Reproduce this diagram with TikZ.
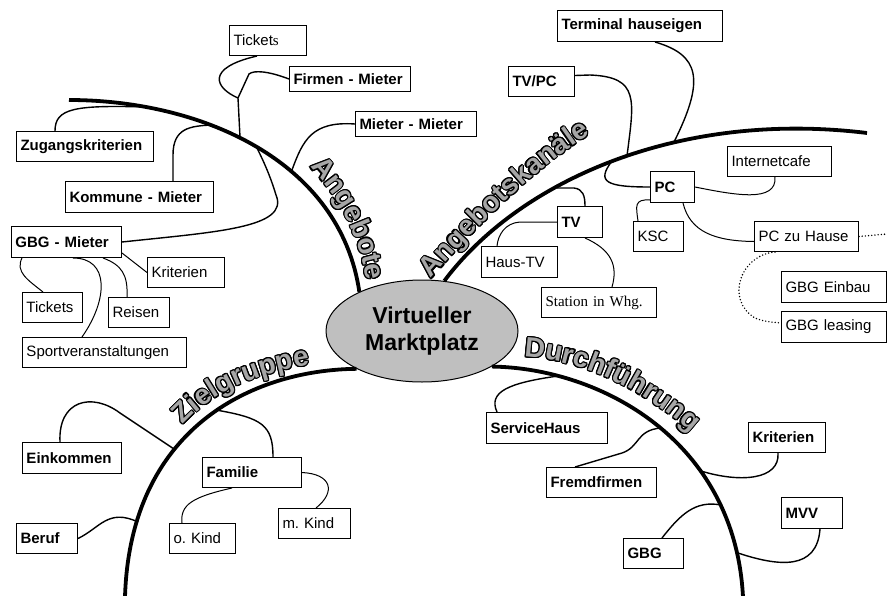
\documentclass[tikz,border=0pt]{standalone}
\usepackage{fontspec}
\setmainfont{Liberation Sans}
\newfontfamily\serifschrift{Liberation Serif}
\usepackage{contour}
\contourlength{1.1pt}
\usetikzlibrary{calc, shapes.geometric, decorations.text}
\frenchspacing

\newcommand\umriss[1]{\contour{black}{#1}}
\newcommand\lblfont{\fontsize{28}{30}\selectfont\bfseries}

\begin{document}
\begin{tikzpicture}[x=1pt, y=-1pt, line width=1.2pt,
    box/.style={draw, line width=1pt, fill=white, anchor=north west, align=left,
      inner xsep=4pt, inner ysep=0pt, text width=#1pt, font=\fontsize{15}{17}\selectfont},
    hbox/.style={box=#1, font=\fontsize{15}{17}\selectfont\bfseries},
    ast/.style={line width=3.8pt},
    zweig/.style={line width=1.4pt},
    duenn/.style={line width=1pt},
    punkt/.style={line width=1.6pt, dash pattern=on 0pt off 3.2pt, line cap=round},
    etikett/.style={decorate, decoration={text effects along path, text={#1},
      text effects/.cd, text along path, character command=\umriss,
      characters={text=black!35, font=\lblfont}}},
  ]
  \useasboundingbox (0,0) rectangle (887,595);
  \fill[white] (0,0) rectangle (887,595);

  % Mitte
  \node[ellipse, draw, line width=1pt, fill=black!25, minimum width=192pt, minimum height=102pt,
    align=center, font=\fontsize{23}{27}\selectfont\bfseries] (vm) at (422,331) {Virtueller\\Marktplatz};

  % Kaesten fett
  \foreach \n/\x/\y/\w/\h/\t in {firm/289/66/113/25/Firmen - Mieter, mm/355/111/113/25/Mieter - Mieter,
      term/557/10/157/31/Terminal hauseigen, tvpc/508/66/58/30/{TV/PC},
      zug/16/131/129/30/Zugangskriterien, kom/65/181/140/31/Kommune - Mieter,
      gbg/11/226/102/31/GBG - Mieter, pc/650/171/36/31/PC, tv/557/206/37/31/TV,
      eink/22/442/91/31/Einkommen, beruf/16/523/53/30/Beruf, fam/202/457/91/30/Familie,
      serv/486/412/113/31/ServiceHaus, frem/546/467/102/30/Fremdfirmen,
      krit/748/422/69/30/Kriterien, mvv/781/497/53/31/MVV, gbgd/623/538/52/30/GBG} {
    \node[hbox=\w, minimum height=\h pt] (\n) at (\x,\y) {\t};
  }

  % Kaesten normal
  \foreach \n/\x/\y/\w/\h/\t in {tick/229/25/69/30/Ticket{\serifschrift s}, kritg/147/257/69/30/Kriterien,
      tickg/22/292/52/30/Tickets, reis/108/297/53/30/Reisen, sport/22/337/156/30/Sportveranstaltungen,
      inet/727/146/96/30/Internetcafe, ksc/633/221/42/30/KSC, pczh/754/221/96/30/PC zu Hause,
      einb/781/271/97/31/GBG Einbau, leas/781/311/97/31/GBG leasing, haus/481/246/68/31/Haus-TV,
      okind/169/523/58/30/o. Kind, mkind/278/508/64/30/m. Kind} {
    \node[box=\w, minimum height=\h pt] (\n) at (\x,\y) {\t};
  }
  \node[box=107, minimum height=30pt, font=\fontsize{15}{17}\selectfont\serifschrift] (stat) at (541,287) {Station in Whg.};

  % Angebote
  \draw[ast] (69,100) .. controls (200,100) and (340,160) .. (vm.148);
  \coordinate (a1) at (147,107);
  \coordinate (a2) at (212,125);
  \coordinate (a3) at (240,137);
  \coordinate (j1) at (238,98);
  \coordinate (a4) at (292,170);
  \coordinate (a5) at (256,146);
  \draw[zweig] ($(zug.north west)+(39,0)$) .. controls (55,108) and (75,105) .. (a1);
  \draw[zweig] ($(kom.north west)+(108,0)$) -- (173,155) .. controls (173,128) and (190,126) .. (a2);
  \draw[zweig] (a3) -- (j1);
  \draw[zweig] ($(tick.south west)+(28,0)$) .. controls (205,68) and (215,88) .. (j1);
  \draw[zweig] (j1) -- (249,74) .. controls (254,70) and (268,71) .. (firm.west);
  \draw[zweig] (a4) .. controls (303,140) and (312,121) .. (mm.west);
  \draw[zweig] (gbg.east) .. controls (215,232) and (290,228) .. (276,195) .. controls (270,175) and (263,160) .. (a5);
  \draw[duenn] ($(gbg.south east)+(0,-5)$) -- (kritg.west);
  \draw[duenn] ($(gbg.south west)+(11,0)$) .. controls (15,272) and (28,280) .. ($(tickg.north west)+(21,0)$);
  \draw[duenn] ($(gbg.south west)+(62,0)$) .. controls (110,258) and (108,300) .. ($(sport.north west)+(60,0)$);
  \draw[duenn] ($(gbg.south west)+(92,0)$) .. controls (122,265) and (128,275) .. ($(reis.north west)+(19,0)$);

  % Angebotskanaele
  \draw[ast] (vm.66) .. controls (520,180) and (680,110) .. (867,133);
  \coordinate (a6) at (674,142);
  \coordinate (a7) at (627,156);
  \coordinate (a8) at (612,161);
  \coordinate (a9) at (557,188);
  \coordinate (e1) at (887,234);
  \draw[zweig] ($(term.south west)+(98,0)$) .. controls (700,55) and (705,80) .. (a6);
  \draw[zweig] ($(tvpc.east)+(0,-6)$) -- (590,75) .. controls (640,77) and (634,100) .. (a7);
  \draw[zweig] (a8) .. controls (596,182) and (606,187) .. (pc.west);
  \draw[duenn] (pc.east) .. controls (735,195) and (777,203) .. ($(inet.south west)+(48,0)$);
  \draw[duenn] ($(pc.south west)+(0,-3)$) .. controls (634,199) and (636,206) .. ($(ksc.north west)+(5,0)$);
  \draw[duenn] ($(pc.south west)+(33,0)$) .. controls (690,232) and (715,241) .. ($(pczh.west)+(0,5)$);
  \draw[punkt] (pczh.east) -- (e1);
  \draw[punkt] ($(pczh.south west)+(21,0)$) .. controls (740,255) and (725,300) .. (755,318)
    .. controls (765,322) and (772,322) .. ($(leas.west)+(0,-4)$);
  \draw[zweig] (a9) -- (574,188) .. controls (583,189) and (585,196) .. ($(tv.north west)+(28,0)$);
  \draw[duenn] (tv.west) -- (520,222) .. controls (505,223) and (498,235) .. ($(haus.north west)+(16,0)$);
  \draw[duenn] ($(tv.south west)+(28,0)$) .. controls (612,250) and (618,266) .. ($(stat.north west)+(71,0)$);

  % Zielgruppe
  \draw[ast] (vm.210) .. controls (250,370) and (130,430) .. (125,597);
  \coordinate (a10) at (174,449);
  \coordinate (a11) at (138,522);
  \coordinate (a12) at (216,410);
  \draw[zweig] ($(eink.north west)+(38,0)$) .. controls (58,400) and (92,392) .. (120,413) -- (a10);
  \draw[zweig] (beruf.east) .. controls (100,528) and (108,508) .. (a11);
  \draw[zweig] (a12) .. controls (262,418) and (273,425) .. ($(fam.north west)+(71,0)$);
  \draw[duenn] ($(fam.south west)+(30,0)$) .. controls (192,497) and (180,505) .. ($(okind.north west)+(13,0)$);
  \draw[duenn] (fam.east) .. controls (332,474) and (336,492) .. ($(mkind.north west)+(38,0)$);

  % Durchfuehrung
  \draw[ast] (vm.333) .. controls (600,368) and (735,440) .. (743,597);
  \coordinate (a13) at (558,376);
  \coordinate (a14) at (661,428);
  \coordinate (a15) at (701,471);
  \coordinate (a16) at (721,505);
  \coordinate (a17) at (738,553);
  \draw[zweig] ($(serv.north west)+(11,0)$) .. controls (488,392) and (508,383) .. (a13);
  \draw[zweig] ($(frem.north west)+(29,0)$) -- (622,453) .. controls (640,447) and (636,430) .. (a14);
  \draw[zweig] (a15) .. controls (740,483) and (780,480) .. ($(krit.south west)+(30,0)$);
  \draw[zweig] ($(gbgd.north west)+(39,0)$) .. controls (680,515) and (695,500) .. (a16);
  \draw[zweig] (a17) .. controls (780,567) and (817,570) .. ($(mvv.south west)+(39,0)$);

  % Beschriftung der Aeste
  \path[etikett=Angebote] (310,167) .. controls (335,195) and (360,225) .. (370,300);
  \path[etikett=Angebotskanäle] (431,279) .. controls (470,235) and (530,170) .. (600,128);
  \path[etikett=Zielgruppe] (183,425) .. controls (215,390) and (265,368) .. (335,362);
  \path[etikett=Durchführung] (524,357) .. controls (585,360) and (650,392) .. (705,445);
\end{tikzpicture}
\end{document}
